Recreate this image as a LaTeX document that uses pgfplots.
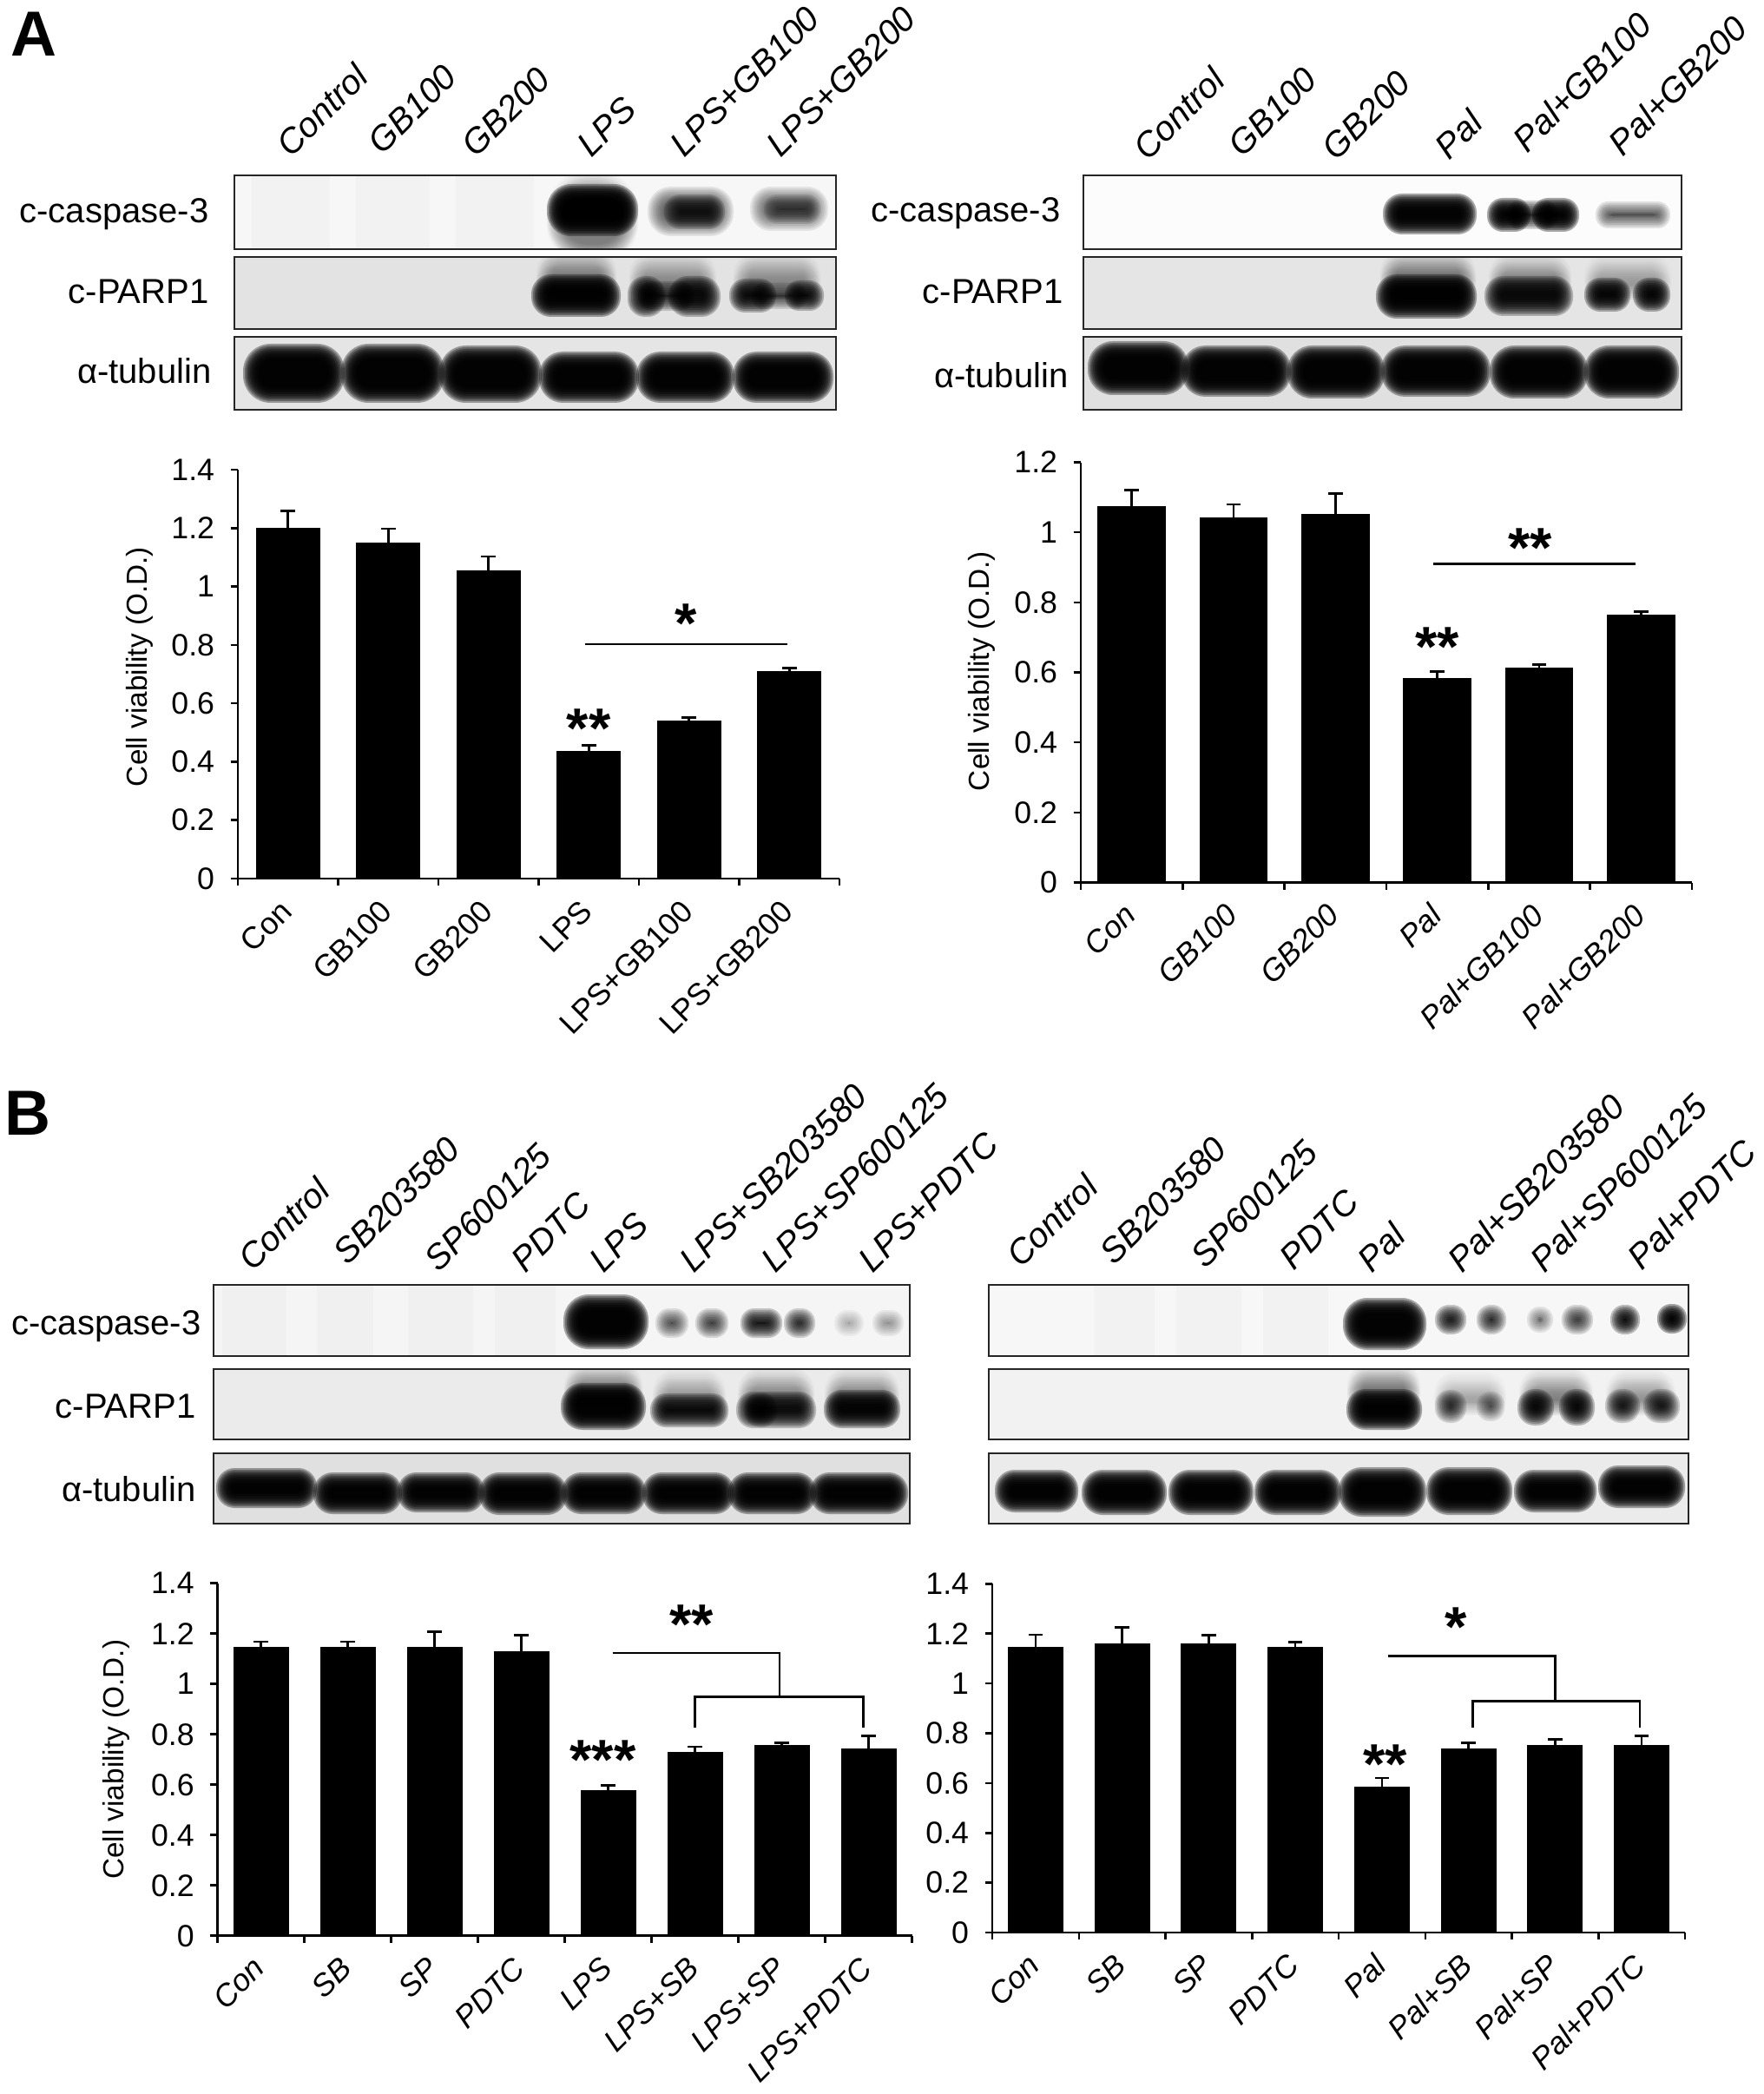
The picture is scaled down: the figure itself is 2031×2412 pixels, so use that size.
\documentclass[border=0pt]{standalone}
\usepackage{fontspec}
\setmainfont{Liberation Sans}
\usepackage{pgfplots}
\pgfplotsset{compat=1.18}
\newcommand{\fs}[1]{\fontsize{#1}{#1}\selectfont}
\pgfplotsset{
  cv/.style={
    scale only axis, clip=false,
    axis x line*=bottom, axis y line*=left,
    axis line style={line width=0.85pt},
    tick align=outside, tick style={black,line width=0.75pt},
    major tick length=2.5pt,
    xmin=-0.5, ymin=0,
    x tick label as interval,
    tick label style={font=\fs{10.7}},
    x tick label style={rotate=45,anchor=north east,inner sep=0pt,xshift=-5.2pt,yshift=-0.45pt},
    label style={font=\fs{11.9}},
    /pgf/number format/fixed,
    /pgf/number format/assume math mode=true,
    yticklabel style={inner sep=1.5pt,xshift=-3.9pt},
    bar width=0.63,
  },
  bars/.style={ybar,bar shift=0pt,fill=black,draw=black,line width=0.3pt,
    error bars/.cd,y dir=plus,y explicit,
    error bar style={line width=0.8pt,black},
    error mark options={rotate=90,mark size=2.5pt,line width=0.8pt,black}},
  br/.style={black,line width=0.8pt,forget plot,no marks},
}
\tikzset{star/.style={font=\fs{19.5}\bfseries,yshift=-2.6pt,inner sep=0pt},
  blab/.style={anchor=base east,inner sep=0pt,font=\fs{12}},
  clab/.style={anchor=base west,inner sep=0pt,rotate=45,font=\fs{12}\itshape}}
% a blurred blot band, from nested translucent rounded shapes
\newcommand{\B}[5]{\pgfmathsetmacro\op{1-(1-#5)^0.8}\foreach \d in {10,8,6,4,2,0,-2,-4,-6,-8}{%
  \pgfmathsetlengthmacro\rr{0.14*max(4,min(#2-#1+2*\d,#4-#3+2*\d))*1pt}%
  \pgfmathsetmacro\xa{#1-\d}\pgfmathsetmacro\xb{#2+\d}%
  \pgfmathsetmacro\ya{#3-\d}\pgfmathsetmacro\yb{#4+\d}%
  \fill[black,fill opacity=\op,rounded corners=\rr] (\xa,\ya) rectangle (\xb,\yb);}}
% a soft smear that darkens towards the band below it
\newcommand{\SM}[5]{\pgfmathsetmacro\sa{#3+10}\pgfmathsetmacro\sb{#3+20}\pgfmathsetmacro\ss{#5/3}%
  \B{#1}{#2}{#3}{#4}{\ss}\B{#1}{#2}{\sa}{#4}{\ss}\B{#1}{#2}{\sb}{#4}{\ss}}
% a faint vertical lane streak
\newcommand{\LN}[4]{\fill[black,fill opacity=0.018] (#1,#3) rectangle (#2,#4);}
% strip: x1 x2 y1 y2 background, then bands in the last argument
\newcommand{\strip}[6]{%
  \fill[#5] (#1,#3) rectangle (#2,#4);
  \begin{scope}\clip (#1,#3) rectangle (#2,#4); #6 \end{scope}
  \draw[line width=0.85pt,black!85] (#1,#3) rectangle (#2,#4);}
\begin{document}
\begin{tikzpicture}[x=0.3pt,y=-0.3pt]
\path[use as bounding box] (0,0) rectangle (2031,2412);
\coordinate (pAL) at (274,1012);
\coordinate (pAR) at (1245,1016.5);
\coordinate (pBL) at (250.6,2229.7);
\coordinate (pBR) at (1143,2226);

\node[anchor=base west,inner sep=0pt,font=\fs{22}\bfseries] at (12,65) {A};
\node[anchor=base west,inner sep=0pt,font=\fs{22}\bfseries] at (5,1307) {B};

% ---------- blot A left
\strip{270}{963}{202}{287}{black!3}{
  \LN{290}{380}{202}{287}\LN{410}{495}{202}{287}\LN{525}{615}{202}{287}
  \SM{640}{725}{205}{290}{0.08}
  \B{640}{725}{222}{262}{0.4}
  \B{756}{835}{225}{262}{0.1}\B{775}{825}{234}{254}{0.2}
  \B{874}{944}{225}{256}{0.09}\B{890}{935}{234}{248}{0.1}}
\strip{270}{963}{296}{379}{black!11}{
  \SM{628}{700}{296}{335}{0.08}\SM{735}{815}{300}{335}{0.06}\SM{855}{935}{300}{335}{0.06}
  \B{622}{705}{326}{355}{0.4}
  \B{733}{756}{328}{355}{0.3}\B{780}{820}{328}{355}{0.3}\B{745}{790}{334}{348}{0.2}
  \B{850}{884}{331}{350}{0.3}\B{914}{939}{333}{348}{0.3}\B{875}{920}{336}{346}{0.15}}
\strip{270}{963}{388}{472}{black!10}{
  \B{290}{387}{406}{454}{0.4}\B{403}{502}{406}{454}{0.4}\B{516}{614}{408}{454}{0.4}
  \B{631}{726}{415}{454}{0.4}\B{743}{836}{415}{454}{0.4}\B{854}{950}{415}{454}{0.4}}
\node[blab] at (241,257) {c-caspase-3};
\node[blab] at (241,350) {c-PARP1};
\node[blab] at (244,442) {α-tubulin};
\node[clab] at (335,183) {Control};
\node[clab] at (440,180) {GB100};
\node[clab] at (548,183) {GB200};
\node[clab] at (681,183) {LPS};
\node[clab] at (788,183) {LPS+GB100};
\node[clab] at (899,183) {LPS+GB200};

% ---------- blot A right
\strip{1248}{1937}{202}{287}{black!1}{
  \B{1603}{1691}{233}{260}{0.4}
  \B{1723}{1753}{238}{257}{0.4}\B{1775}{1809}{238}{257}{0.4}\B{1745}{1785}{241}{254}{0.2}
  \B{1848}{1914}{242}{253}{0.13}}
\strip{1248}{1937}{296}{379}{black!10}{
  \SM{1600}{1690}{298}{335}{0.09}\SM{1725}{1800}{302}{335}{0.07}\SM{1835}{1915}{302}{335}{0.05}
  \B{1595}{1691}{326}{357}{0.4}
  \B{1720}{1802}{328}{354}{0.3}
  \B{1835}{1868}{330}{349}{0.35}\B{1891}{1914}{330}{349}{0.35}}
\strip{1248}{1937}{388}{472}{black!12}{
  \B{1263}{1359}{403}{445}{0.4}\B{1371}{1477}{408}{447}{0.4}\B{1493}{1585}{408}{449}{0.4}
  \B{1601}{1707}{408}{447}{0.4}\B{1726}{1819}{408}{449}{0.4}\B{1835}{1924}{408}{449}{0.4}}
\node[blab] at (1222,256) {c-caspase-3};
\node[blab] at (1225,350) {c-PARP1};
\node[blab] at (1231,447) {α-tubulin};
\node[clab] at (1322,187) {Control};
\node[clab] at (1431,183) {GB100};
\node[clab] at (1539,187) {GB200};
\node[clab] at (1669,186) {Pal};
\node[clab] at (1759,178) {Pal+GB100};
\node[clab] at (1869,182) {Pal+GB200};

% ---------- blot B left
\strip{246}{1048}{1480}{1562}{black!4}{
  \LN{256}{330}{1480}{1562}\LN{365}{430}{1480}{1562}\LN{470}{545}{1480}{1562}\LN{570}{640}{1480}{1562}
  \B{659}{737}{1501}{1544}{0.4}
  \B{765}{783}{1517}{1531}{0.13}\B{811}{829}{1517}{1531}{0.16}
  \B{863}{891}{1517}{1531}{0.25}\B{913}{929}{1517}{1531}{0.2}
  \B{971}{985}{1519}{1529}{0.05}\B{1015}{1031}{1519}{1529}{0.07}}
\strip{246}{1048}{1577}{1658}{black!8}{
  \SM{660}{730}{1580}{1615}{0.09}\SM{762}{826}{1588}{1620}{0.06}\SM{860}{928}{1586}{1620}{0.07}\SM{960}{1026}{1586}{1620}{0.07}
  \B{656}{734}{1603}{1637}{0.4}
  \B{759}{829}{1615}{1634}{0.3}
  \B{858}{930}{1613}{1635}{0.27}\B{868}{885}{1614}{1634}{0.2}
  \B{959}{1027}{1611}{1635}{0.35}}
\strip{246}{1048}{1674}{1755}{black!12}{
  \B{259}{355}{1701}{1727}{0.4}\B{371}{453}{1706}{1734}{0.4}\B{468}{548}{1706}{1732}{0.4}\B{562}{643}{1706}{1735}{0.4}
  \B{657}{734}{1706}{1734}{0.4}\B{750}{836}{1706}{1734}{0.4}\B{849}{930}{1706}{1734}{0.4}\B{943}{1036}{1706}{1734}{0.4}}
\node[blab] at (232,1537) {c-caspase-3};
\node[blab] at (226,1633) {c-PARP1};
\node[blab] at (226,1729) {α-tubulin};
\node[clab] at (291,1466) {Control};
\node[clab] at (400,1459) {SB203580};
\node[clab] at (505,1467) {SP600125};
\node[clab] at (605,1468) {PDTC};
\node[clab] at (695,1468) {LPS};
\node[clab] at (799,1468) {LPS+SB203580};
\node[clab] at (893,1468) {LPS+SP600125};
\node[clab] at (1005,1468) {LPS+PDTC};

% ---------- blot B right
\strip{1139}{1945}{1480}{1562}{black!3}{
  \LN{1260}{1330}{1480}{1562}\LN{1355}{1430}{1480}{1562}\LN{1455}{1530}{1480}{1562}
  \B{1557}{1633}{1505}{1545}{0.4}
  \B{1663}{1679}{1513}{1527}{0.25}\B{1711}{1725}{1513}{1527}{0.2}
  \B{1769}{1779}{1515}{1525}{0.1}\B{1809}{1825}{1513}{1527}{0.17}
  \B{1865}{1879}{1513}{1527}{0.3}\B{1919}{1933}{1512}{1526}{0.4}}
\strip{1139}{1945}{1577}{1658}{black!5}{
  \SM{1562}{1626}{1580}{1615}{0.09}\SM{1662}{1725}{1590}{1620}{0.05}\SM{1760}{1825}{1586}{1620}{0.07}\SM{1860}{1920}{1588}{1620}{0.06}
  \B{1561}{1628}{1610}{1637}{0.4}
  \B{1663}{1679}{1611}{1629}{0.18}\B{1711}{1723}{1613}{1627}{0.12}
  \B{1758}{1780}{1610}{1632}{0.3}\B{1806}{1827}{1610}{1632}{0.3}
  \B{1859}{1879}{1610}{1629}{0.22}\B{1903}{1925}{1610}{1629}{0.22}}
\strip{1139}{1945}{1674}{1755}{black!8}{
  \B{1156}{1232}{1703}{1732}{0.4}\B{1256}{1334}{1703}{1735}{0.4}\B{1356}{1434}{1703}{1735}{0.4}\B{1455}{1535}{1703}{1735}{0.4}
  \B{1552}{1633}{1700}{1737}{0.4}\B{1653}{1732}{1700}{1735}{0.4}\B{1754}{1829}{1703}{1732}{0.4}\B{1851}{1931}{1698}{1727}{0.4}}
\node[clab] at (1176,1462) {Control};
\node[clab] at (1283,1459) {SB203580};
\node[clab] at (1388,1463) {SP600125};
\node[clab] at (1490,1465) {PDTC};
\node[clab] at (1580,1468) {Pal};
\node[clab] at (1684,1468) {Pal+SB203580};
\node[clab] at (1779,1468) {Pal+SP600125};
\node[clab] at (1891,1465) {Pal+PDTC};

% ---------- bar chart A left
\begin{axis}[cv,at={(pAL)},anchor=south west,width=207.9pt,height=141.3pt,
  xmax=5.5,ymax=1.4,ytick={0,0.2,...,1.4},xtick={-0.5,0.5,...,5.5},
  xticklabels={Con,GB100,GB200,LPS,LPS+GB100,LPS+GB200},
  ylabel={Cell viability (O.D.)},
  every axis y label/.style={at={(axis description cs:-0.163,0.518)},rotate=90,anchor=center}]
\addplot[bars] coordinates {
  (0,1.2) +- (0,0.058)
  (1,1.15) +- (0,0.048)
  (2,1.055) +- (0,0.048)
  (3,0.434) +- (0,0.022)
  (4,0.54) +- (0,0.012)
  (5,0.709) +- (0,0.011)};
\addplot[br] coordinates {(2.96,0.803) (4.98,0.803)};
\node[star] at (axis cs:3,0.54) {**};
\node[star] at (axis cs:3.97,0.898) {*};
\end{axis}

% ---------- bar chart A right
\begin{axis}[cv,at={(pAR)},anchor=south west,width=211.2pt,height=145.2pt,
  xmax=5.5,ymax=1.2,ytick={0,0.2,...,1.2},xtick={-0.5,0.5,...,5.5},bar width=0.66,
  x tick label style={font=\fs{10.7}\itshape},
  xticklabels={Con,GB100,GB200,Pal,Pal+GB100,Pal+GB200},
  ylabel={Cell viability (O.D.)},
  every axis y label/.style={at={(axis description cs:-0.162,0.503)},rotate=90,anchor=center}]
\addplot[bars] coordinates {
  (0,1.073) +- (0,0.047)
  (1,1.042) +- (0,0.038)
  (2,1.052) +- (0,0.058)
  (3,0.582) +- (0,0.02)
  (4,0.612) +- (0,0.01)
  (5,0.763) +- (0,0.01)};
\addplot[br] coordinates {(2.96,0.91) (4.95,0.91)};
\node[star] at (axis cs:3.91,0.977) {**};
\node[star] at (axis cs:3,0.694) {**};
\end{axis}

% ---------- bar chart B left
\begin{axis}[cv,at={(pBL)},anchor=south west,width=240pt,height=121.8pt,
  xmax=7.5,ymax=1.4,ytick={0,0.2,...,1.4},xtick={-0.5,0.5,...,7.5},
  x tick label style={font=\fs{10.7}\itshape},
  xticklabels={Con,SB,SP,PDTC,LPS,LPS+SB,LPS+SP,LPS+PDTC},
  ylabel={Cell viability (O.D.)},
  every axis y label/.style={at={(axis description cs:-0.146,0.5)},rotate=90,anchor=center}]
\addplot[bars] coordinates {
  (0,1.145) +- (0,0.023)
  (1,1.145) +- (0,0.023)
  (2,1.145) +- (0,0.063)
  (3,1.127) +- (0,0.067)
  (4,0.575) +- (0,0.023)
  (5,0.728) +- (0,0.023)
  (6,0.755) +- (0,0.011)
  (7,0.742) +- (0,0.051)};
\addplot[br] coordinates {(4.05,1.123) (5.975,1.123) (5.975,0.95)};
\addplot[br] coordinates {(5.0,0.827) (5.0,0.95) (6.94,0.95) (6.94,0.827)};
\node[star] at (axis cs:4.96,1.266) {**};
\node[star] at (axis cs:3.94,0.728) {***};
\end{axis}

% ---------- bar chart B right
\begin{axis}[cv,at={(pBR)},anchor=south west,width=239.4pt,height=120.5pt,
  xmax=7.5,ymax=1.4,ytick={0,0.2,...,1.4},xtick={-0.5,0.5,...,7.5},
  x tick label style={font=\fs{10.7}\itshape},
  xticklabels={Con,SB,SP,PDTC,Pal,Pal+SB,Pal+SP,Pal+PDTC}]
\addplot[bars] coordinates {
  (0,1.145) +- (0,0.051)
  (1,1.159) +- (0,0.066)
  (2,1.159) +- (0,0.036)
  (3,1.145) +- (0,0.022)
  (4,0.583) +- (0,0.038)
  (5,0.737) +- (0,0.024)
  (6,0.751) +- (0,0.025)
  (7,0.751) +- (0,0.039)};
\addplot[br] coordinates {(4.07,1.111) (6.0,1.111) (6.0,0.93)};
\addplot[br] coordinates {(5.05,0.824) (5.05,0.93) (6.98,0.93) (6.98,0.824)};
\node[star] at (axis cs:4.85,1.258) {*};
\node[star] at (axis cs:4.04,0.707) {**};
\end{axis}
\end{tikzpicture}
\end{document}
